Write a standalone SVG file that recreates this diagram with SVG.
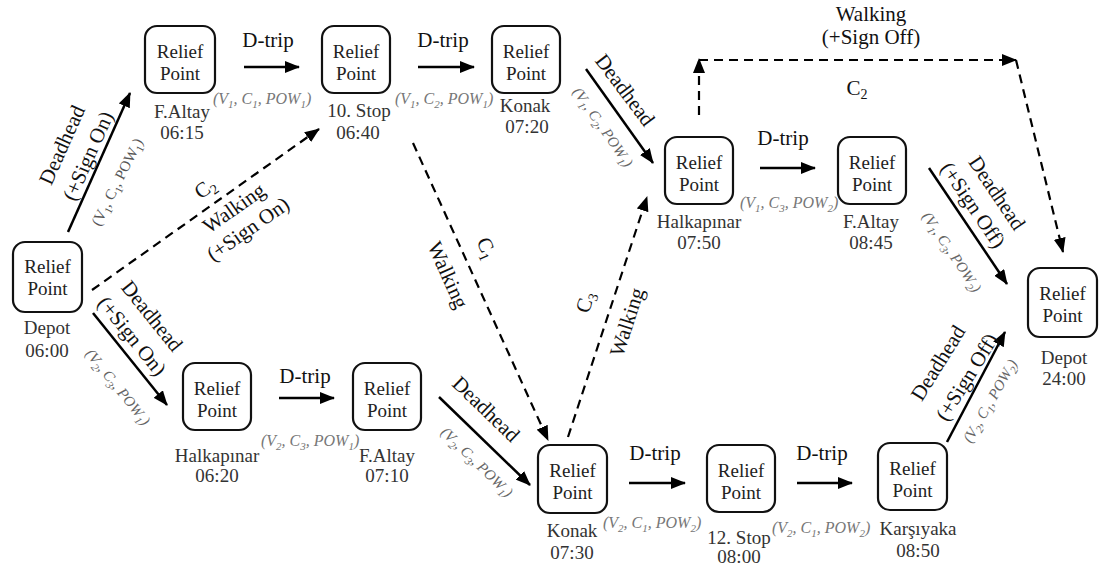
<svg xmlns="http://www.w3.org/2000/svg" width="1100" height="567" viewBox="0 0 1100 567" font-family="Liberation Serif, Times New Roman, DejaVu Serif, serif">
<defs>
<style>
.box{fill:#fff;stroke:#111;stroke-width:2.2}
.rp{font-size:19px;fill:#222;text-anchor:middle}
.lb{font-size:19px;fill:#333;text-anchor:middle}
.cl{font-size:21px;fill:#111;text-anchor:middle}
.pm{font-size:16px;font-style:italic;fill:#777}
.pmc{font-size:15px;font-style:italic;fill:#666;text-anchor:middle}
.sub{font-size:11px}
.solid{stroke:#000;stroke-width:2.5;fill:none;marker-end:url(#ah)}
.dash{stroke:#000;stroke-width:2.2;fill:none;stroke-dasharray:9 6;marker-end:url(#ah)}
</style>
<marker id="ah" viewBox="0 0 15 12" refX="14" refY="6" markerWidth="15" markerHeight="12" markerUnits="userSpaceOnUse" orient="auto">
<path d="M0,0 L15,6 L0,12 z" fill="#000" stroke="none"/>
</marker>
</defs>
<rect width="1100" height="567" fill="#fff"/>

<g id="connectors" font-family="Liberation Serif, Times New Roman, DejaVu Serif, serif">
<line class="solid" x1="244" y1="67" x2="299" y2="67"/>
<line class="solid" x1="418" y1="67" x2="474" y2="67"/>
<line class="solid" x1="760" y1="168" x2="815" y2="168"/>
<line class="solid" x1="279" y1="398" x2="334" y2="398"/>
<line class="solid" x1="629" y1="483" x2="685" y2="483"/>
<line class="solid" x1="797" y1="483" x2="852" y2="483"/>
<line class="solid" x1="68" y1="232" x2="130" y2="93"/>
<line class="solid" x1="93" y1="313" x2="167" y2="405"/>
<line class="solid" x1="586" y1="69" x2="653" y2="163"/>
<line class="solid" x1="929" y1="168" x2="1007" y2="284"/>
<line class="solid" x1="947" y1="442" x2="1005" y2="332"/>
<line class="solid" x1="439" y1="397" x2="530" y2="485"/>
<line class="dash" x1="92" y1="290" x2="319" y2="129"/>
<line class="dash" x1="413" y1="143" x2="548" y2="440"/>
<line class="dash" x1="568" y1="437" x2="647" y2="197"/>
<line class="dash" x1="699" y1="115" x2="699" y2="59"/>
<line class="dash" x1="699" y1="60" x2="1016" y2="60"/>
<line class="dash" x1="1016" y1="60" x2="1063" y2="252"/>

<!-- D-trip labels -->
<text class="cl" x="268" y="47">D-trip</text>
<text class="cl" x="443" y="47">D-trip</text>
<text class="cl" x="783" y="145">D-trip</text>
<text class="cl" x="305" y="383">D-trip</text>
<text class="cl" x="655" y="460">D-trip</text>
<text class="cl" x="822" y="460">D-trip</text>

<!-- parameter labels (horizontal) -->
<text class="pm" x="213" y="104">(V<tspan class="sub" dy="4">1</tspan><tspan dy="-4">, C</tspan><tspan class="sub" dy="4">1</tspan><tspan dy="-4">, POW</tspan><tspan class="sub" dy="4">1</tspan><tspan dy="-4">)</tspan></text>
<text class="pm" x="395" y="104">(V<tspan class="sub" dy="4">1</tspan><tspan dy="-4">, C</tspan><tspan class="sub" dy="4">2</tspan><tspan dy="-4">, POW</tspan><tspan class="sub" dy="4">1</tspan><tspan dy="-4">)</tspan></text>
<text class="pm" x="740" y="208">(V<tspan class="sub" dy="4">1</tspan><tspan dy="-4">, C</tspan><tspan class="sub" dy="4">3</tspan><tspan dy="-4">, POW</tspan><tspan class="sub" dy="4">2</tspan><tspan dy="-4">)</tspan></text>
<text class="pm" x="261" y="446">(V<tspan class="sub" dy="4">2</tspan><tspan dy="-4">, C</tspan><tspan class="sub" dy="4">3</tspan><tspan dy="-4">, POW</tspan><tspan class="sub" dy="4">1</tspan><tspan dy="-4">)</tspan></text>
<text class="pm" x="603" y="528">(V<tspan class="sub" dy="4">2</tspan><tspan dy="-4">, C</tspan><tspan class="sub" dy="4">1</tspan><tspan dy="-4">, POW</tspan><tspan class="sub" dy="4">2</tspan><tspan dy="-4">)</tspan></text>
<text class="pm" x="772" y="533">(V<tspan class="sub" dy="4">2</tspan><tspan dy="-4">, C</tspan><tspan class="sub" dy="4">1</tspan><tspan dy="-4">, POW</tspan><tspan class="sub" dy="4">2</tspan><tspan dy="-4">)</tspan></text>

<!-- Depot -> F.Altay -->
<text class="cl" transform="translate(62,145) rotate(-66)" y="7">Deadhead</text>
<text class="cl" transform="translate(88,156) rotate(-66)" y="7">(+Sign On)</text>
<text class="pmc" style="font-style:normal;fill:#555" transform="translate(117,182) rotate(-63)" y="5">(V<tspan class="sub" dy="4">1</tspan><tspan dy="-4">, C</tspan><tspan class="sub" dy="4">1</tspan><tspan dy="-4">, POW</tspan><tspan class="sub" dy="4">1</tspan><tspan dy="-4">)</tspan></text>

<!-- Depot -> 10. Stop walking -->
<text class="cl" transform="translate(205,188) rotate(-35)" y="7">C<tspan class="sub" style="font-size:14px" dy="4">2</tspan></text>
<text class="cl" transform="translate(234,208) rotate(-35)" y="7">Walking</text>
<text class="cl" transform="translate(248,229) rotate(-35)" y="7">(+Sign On)</text>

<!-- Depot -> Halkapinar -->
<text class="cl" transform="translate(152,316) rotate(51)" y="7">Deadhead</text>
<text class="cl" transform="translate(132,336) rotate(51)" y="7">(+Sign On)</text>
<text class="pmc" transform="translate(118,387) rotate(51)" y="5">(V<tspan class="sub" dy="4">2</tspan><tspan dy="-4">, C</tspan><tspan class="sub" dy="4">3</tspan><tspan dy="-4">, POW</tspan><tspan class="sub" dy="4">1</tspan><tspan dy="-4">)</tspan></text>

<!-- Konak -> Halkapinar -->
<text class="cl" transform="translate(625,90) rotate(53)" y="7">Deadhead</text>
<text class="pmc" transform="translate(603,127) rotate(55)" y="5">(V<tspan class="sub" dy="4">1</tspan><tspan dy="-4">, C</tspan><tspan class="sub" dy="4">2</tspan><tspan dy="-4">, POW</tspan><tspan class="sub" dy="4">1</tspan><tspan dy="-4">)</tspan></text>

<!-- C1 walking -->
<text class="cl" transform="translate(487,248) rotate(66)" y="7">C<tspan class="sub" style="font-size:14px" dy="4">1</tspan></text>
<text class="cl" transform="translate(448,275) rotate(66)" y="7">Walking</text>

<!-- C3 walking -->
<text class="cl" transform="translate(585,302) rotate(-72)" y="7">C<tspan class="sub" style="font-size:14px" dy="4">3</tspan></text>
<text class="cl" transform="translate(627,322) rotate(-72)" y="7">Walking</text>

<!-- top walking -->
<text class="cl" x="871" y="21">Walking</text>
<text class="cl" x="871" y="44">(+Sign Off)</text>
<text class="cl" x="857" y="95">C<tspan class="sub" style="font-size:14px" dy="4">2</tspan></text>

<!-- F.Altay -> Depot -->
<text class="cl" transform="translate(997,193) rotate(56)" y="7">Deadhead</text>
<text class="cl" transform="translate(973,205) rotate(56)" y="7">(+Sign Off)</text>
<text class="pmc" transform="translate(952,252) rotate(56)" y="5">(V<tspan class="sub" dy="4">1</tspan><tspan dy="-4">, C</tspan><tspan class="sub" dy="4">3</tspan><tspan dy="-4">, POW</tspan><tspan class="sub" dy="4">2</tspan><tspan dy="-4">)</tspan></text>

<!-- Karsiyaka -> Depot -->
<text class="cl" transform="translate(938,363) rotate(-58)" y="7">Deadhead</text>
<text class="cl" transform="translate(967,377) rotate(-58)" y="7">(+Sign Off)</text>
<text class="pmc" transform="translate(990,401) rotate(-60)" y="5">(V<tspan class="sub" dy="4">2</tspan><tspan dy="-4">, C</tspan><tspan class="sub" dy="4">1</tspan><tspan dy="-4">, POW</tspan><tspan class="sub" dy="4">2</tspan><tspan dy="-4">)</tspan></text>

<!-- F.Altay -> Konak -->
<text class="cl" transform="translate(486,409) rotate(44)" y="7">Deadhead</text>
<text class="pmc" transform="translate(477,462) rotate(44)" y="5">(V<tspan class="sub" dy="4">2</tspan><tspan dy="-4">, C</tspan><tspan class="sub" dy="4">3</tspan><tspan dy="-4">, POW</tspan><tspan class="sub" dy="4">1</tspan><tspan dy="-4">)</tspan></text>
</g>

<g id="n-depot-start"><rect class="box" x="13" y="242" width="69" height="70" rx="12"/><text class="rp" x="47.5" y="273">Relief</text><text class="rp" x="47.5" y="295">Point</text><text class="lb" x="47" y="334">Depot</text><text class="lb" x="47" y="357">06:00</text></g>
<g id="n-faltay-1"><rect class="box" x="145" y="26" width="70" height="67" rx="12"/><text class="rp" x="180" y="58">Relief</text><text class="rp" x="180" y="80">Point</text><text class="lb" x="182" y="118">F.Altay</text><text class="lb" x="182" y="139">06:15</text></g>
<g id="n-stop10"><rect class="box" x="322" y="26" width="68" height="67" rx="12"/><text class="rp" x="356" y="58">Relief</text><text class="rp" x="356" y="80">Point</text><text class="lb" x="359" y="117">10. Stop</text><text class="lb" x="358" y="139">06:40</text></g>
<g id="n-konak-1"><rect class="box" x="492" y="26" width="68" height="67" rx="12"/><text class="rp" x="526" y="58">Relief</text><text class="rp" x="526" y="80">Point</text><text class="lb" x="525" y="112">Konak</text><text class="lb" x="527" y="133">07:20</text></g>
<g id="n-halkapinar-2"><rect class="box" x="665" y="137" width="68" height="67" rx="12"/><text class="rp" x="699" y="169">Relief</text><text class="rp" x="699" y="191">Point</text><text class="lb" x="699" y="228">Halkapınar</text><text class="lb" x="699" y="249">07:50</text></g>
<g id="n-faltay-3"><rect class="box" x="838" y="137" width="68" height="67" rx="12"/><text class="rp" x="872" y="169">Relief</text><text class="rp" x="872" y="191">Point</text><text class="lb" x="871" y="228">F.Altay</text><text class="lb" x="871" y="249">08:45</text></g>
<g id="n-depot-end"><rect class="box" x="1028" y="268" width="69" height="69" rx="12"/><text class="rp" x="1062.5" y="300">Relief</text><text class="rp" x="1062.5" y="322">Point</text><text class="lb" x="1064" y="364">Depot</text><text class="lb" x="1064" y="385">24:00</text></g>
<g id="n-halkapinar-1"><rect class="box" x="183" y="363" width="68" height="67" rx="12"/><text class="rp" x="217" y="395">Relief</text><text class="rp" x="217" y="417">Point</text><text class="lb" x="217" y="462">Halkapınar</text><text class="lb" x="217" y="482">06:20</text></g>
<g id="n-faltay-2"><rect class="box" x="353" y="363" width="68" height="67" rx="12"/><text class="rp" x="387" y="395">Relief</text><text class="rp" x="387" y="417">Point</text><text class="lb" x="387" y="462">F.Altay</text><text class="lb" x="387" y="482">07:10</text></g>
<g id="n-konak-2"><rect class="box" x="538" y="445" width="69" height="68" rx="12"/><text class="rp" x="572.5" y="477">Relief</text><text class="rp" x="572.5" y="499">Point</text><text class="lb" x="572" y="537">Konak</text><text class="lb" x="572" y="559">07:30</text></g>
<g id="n-stop12"><rect class="box" x="707" y="445" width="68" height="67" rx="12"/><text class="rp" x="741" y="477">Relief</text><text class="rp" x="741" y="499">Point</text><text class="lb" x="739" y="544">12. Stop</text><text class="lb" x="739" y="563">08:00</text></g>
<g id="n-karsiyaka"><rect class="box" x="878" y="443" width="69" height="67" rx="12"/><text class="rp" x="912.5" y="475">Relief</text><text class="rp" x="912.5" y="497">Point</text><text class="lb" x="918" y="535">Karşıyaka</text><text class="lb" x="918" y="557">08:50</text></g>
</svg>
